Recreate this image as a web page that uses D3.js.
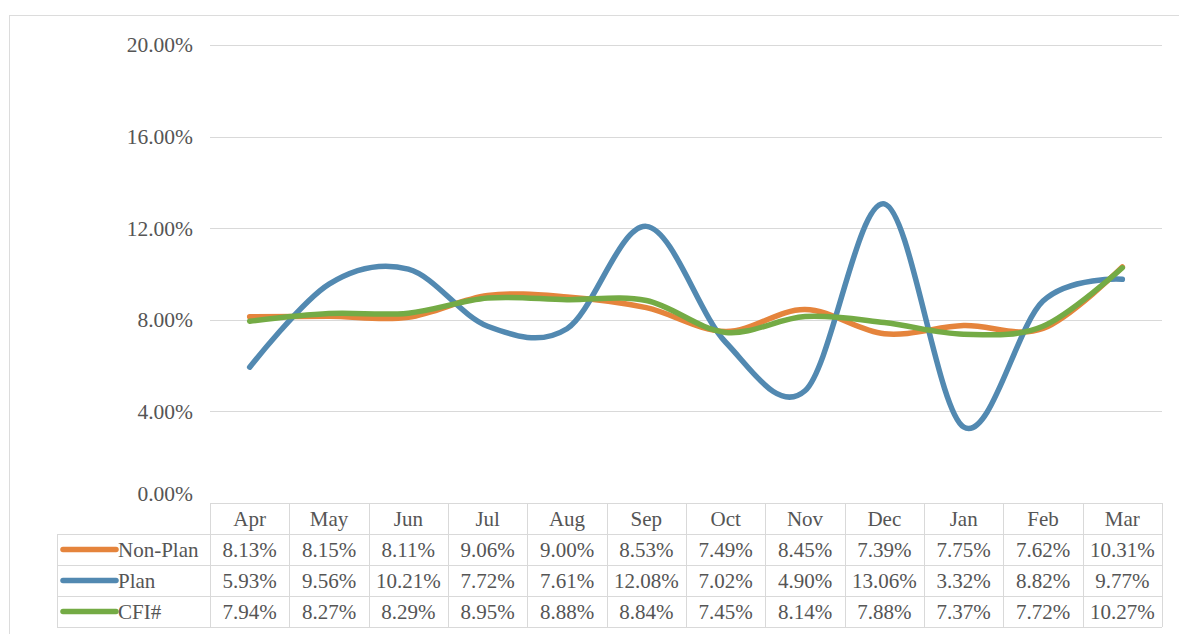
<!DOCTYPE html>
<html>
<head>
<meta charset="utf-8">
<script src="https://cdn.jsdelivr.net/npm/d3@7"></script>
<style>
  html, body { margin: 0; padding: 0; background: #ffffff; }
  svg { display: block; }
  text { font-family: "Liberation Serif", "Times New Roman", serif; fill: #555555; }
</style>
</head>
<body>
<svg id="chart" width="1179" height="634"></svg>
<script>
const categories = ["Apr", "May", "Jun", "Jul", "Aug", "Sep", "Oct", "Nov", "Dec", "Jan", "Feb", "Mar"];
const nonPlan = [8.13, 8.15, 8.11, 9.06, 9.00, 8.53, 7.49, 8.45, 7.39, 7.75, 7.62, 10.31];
const plan    = [5.93, 9.56, 10.21, 7.72, 7.61, 12.08, 7.02, 4.90, 13.06, 3.32, 8.82, 9.77];
const cfi     = [7.94, 8.27, 8.29, 8.95, 8.88, 8.84, 7.45, 8.14, 7.88, 7.37, 7.72, 10.27];
const seriesNames = ["Non-Plan", "Plan", "CFI#"];
const yTicks = [0, 4, 8, 12, 16, 20];

const series = [
  { name: seriesNames[0], values: nonPlan, color: "#e5843c" },
  { name: seriesNames[1], values: plan,    color: "#5289b1" },
  { name: seriesNames[2], values: cfi,     color: "#74ab45" }
];

const svg = d3.select("#chart");
const pLeft = 210, pRight = 1162, pTop = 45, pBottom = 503;
const rowH = 31;
const labelLeft = 57;
const serif = '"Liberation Serif", "Times New Roman", serif';
const textColor = "#555555";

// outer chart border
svg.append("rect")
  .attr("x", 9.5).attr("y", 15.5).attr("width", 1200).attr("height", 700)
  .attr("fill", "none").attr("stroke", "#dcdcdc").attr("stroke-width", 1);

const x = d3.scaleBand().domain(categories).range([pLeft, pRight]).padding(0);
const y = d3.scaleLinear().domain([0, 20]).range([pBottom, pTop]);
const cx = c => x(c) + x.bandwidth() / 2;

// gridlines
svg.append("g").selectAll("line").data(yTicks.filter(t => t > 0)).join("line")
  .attr("x1", pLeft).attr("x2", pRight)
  .attr("y1", d => Math.round(y(d)) + 0.5).attr("y2", d => Math.round(y(d)) + 0.5)
  .attr("stroke", "#d9d9d9").attr("stroke-width", 1);

// y axis labels
const yAxis = d3.axisLeft(y).tickValues(yTicks).tickSize(0).tickPadding(17)
  .tickFormat(d => d.toFixed(2) + "%");
const gy = svg.append("g").attr("transform", `translate(${pLeft},0)`).call(yAxis);
gy.select(".domain").remove();
gy.attr("font-family", null).attr("font-size", null);
gy.selectAll("text").style("font-family", serif)
  .style("font-size", "21.5px").style("fill", textColor);
gy.selectAll(".tick").filter(d => d === 0).select("text").attr("dy", "-0.12em");

// data table
const tbl = svg.append("g");
const tableBottom = pBottom + rowH * 4;
const hLines = [0, 1, 2, 3, 4];
tbl.selectAll("line.h").data(hLines).join("line")
  .attr("class", "h")
  .attr("x1", d => d === 0 ? pLeft : labelLeft).attr("x2", pRight)
  .attr("y1", d => pBottom + d * rowH + 0.5).attr("y2", d => pBottom + d * rowH + 0.5)
  .attr("stroke", "#d9d9d9");
const vx = categories.map(c => x(c)).concat([pRight]);
tbl.selectAll("line.v").data(vx).join("line")
  .attr("class", "v")
  .attr("x1", d => Math.round(d) + 0.5).attr("x2", d => Math.round(d) + 0.5)
  .attr("y1", pBottom).attr("y2", tableBottom)
  .attr("stroke", "#d9d9d9");
tbl.append("line")
  .attr("x1", labelLeft + 0.5).attr("x2", labelLeft + 0.5)
  .attr("y1", pBottom + rowH).attr("y2", tableBottom).attr("stroke", "#d9d9d9");

// header
tbl.selectAll("text.hd").data(categories).join("text")
  .attr("class", "hd")
  .attr("x", d => cx(d)).attr("y", pBottom + rowH / 2)
  .attr("dy", "0.35em").attr("text-anchor", "middle")
  .style("font-family", serif).style("font-size", "21px").style("fill", textColor).text(d => d);

// rows
series.forEach((s, i) => {
  const ry = pBottom + rowH * (i + 1) + rowH / 2;
  tbl.append("line")
    .attr("x1", 63).attr("x2", 116).attr("y1", ry).attr("y2", ry)
    .attr("stroke", s.color).attr("stroke-width", 5.5).attr("stroke-linecap", "round");
  tbl.append("text").attr("x", 118).attr("y", ry).attr("dy", "0.35em")
    .style("font-family", serif).style("font-size", "21px").style("fill", textColor).text(s.name);
  tbl.selectAll(null).data(s.values).join("text")
    .attr("x", (d, j) => cx(categories[j])).attr("y", ry)
    .attr("dy", "0.35em").attr("text-anchor", "middle")
    .style("font-family", serif).style("font-size", "21px").style("fill", textColor)
    .text(d => d.toFixed(2) + "%");
});

// lines
const line = d3.line()
  .x((d, j) => cx(categories[j]))
  .y(d => y(d))
  .curve(d3.curveCardinal.tension(0));

series.forEach(s => {
  svg.append("path").datum(s.values)
    .attr("d", line)
    .attr("fill", "none").attr("stroke", s.color)
    .attr("stroke-width", 5.5).attr("stroke-linecap", "round")
    .attr("stroke-linejoin", "round");
});
</script>
</body>
</html>
